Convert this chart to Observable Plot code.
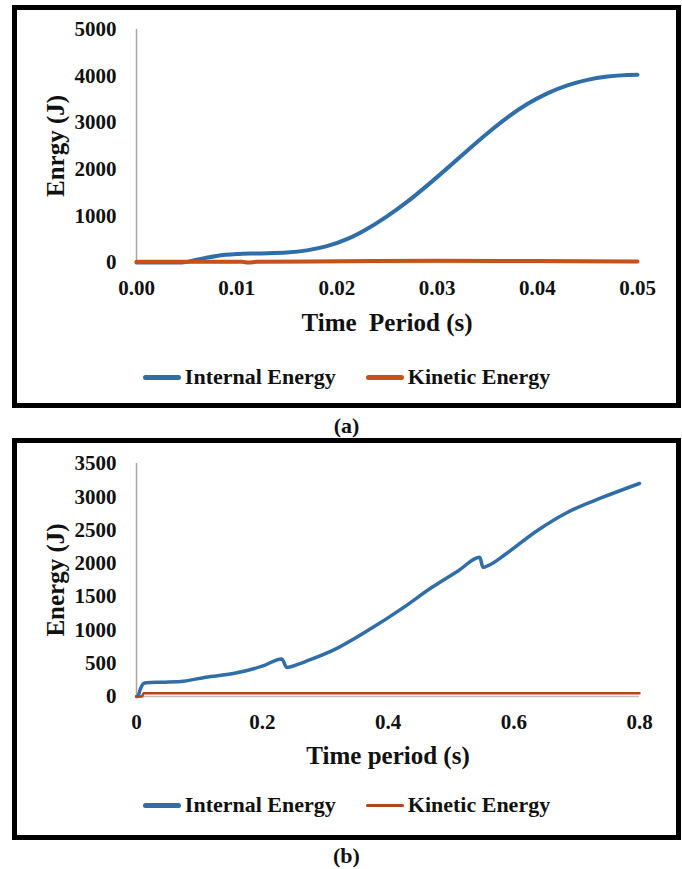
<!DOCTYPE html>
<html>
<head>
<meta charset="utf-8">
<script src="https://cdn.jsdelivr.net/npm/d3@7"></script>
<script src="https://cdn.jsdelivr.net/npm/@observablehq/plot@0.6"></script>
<style>
  html, body { margin: 0; padding: 0; background: #fff; }
  body { position: relative; width: 682px; height: 869px; overflow: hidden; font-family: "Liberation Serif", "Times New Roman", serif; font-weight: bold; color: #111; }
  .frame { position: absolute; box-sizing: border-box; border: 5px solid #000; }
  .chart { position: absolute; }
  .chart svg text { white-space: pre; }
  .legend { position: absolute; left: 12px; width: 669px; display: flex; justify-content: center; align-items: center; font-size: 22px; height: 30px; }
  .legend .item { display: flex; align-items: center; margin: 0 15px; }
  .legend .sw { display: inline-block; width: 38px; border-radius: 3px; margin-right: 4px; }
  .caption { position: absolute; left: 12px; width: 669px; text-align: center; font-size: 22px; }
</style>
</head>
<body>
<div class="frame" style="left:12px; top:5px; width:669px; height:403px;"></div>
<div class="frame" style="left:12px; top:438px; width:669px; height:402px;"></div>
<div id="chartA" class="chart" style="left:17px; top:10px;"></div>
<div id="chartB" class="chart" style="left:17px; top:443px;"></div>
<div class="legend" id="legendA" style="top:362px;"></div>
<div class="legend" id="legendB" style="top:790px;"></div>
<div class="caption" style="top:413px;">(a)</div>
<div class="caption" style="top:843px;">(b)</div>
<script>
// ---------- Panel (a) data ----------
const seriesNames = ["Internal Energy", "Kinetic Energy"];
const colorsA = ["#2f6ea6", "#c4521a"];
const colorsB = ["#2f6ea6", "#b5431c"];

const timeInternalA   = [0, 0.002, 0.0045, 0.006, 0.008, 0.010, 0.012, 0.015, 0.017, 0.019, 0.021, 0.023, 0.025, 0.027, 0.029, 0.031, 0.033, 0.035, 0.037, 0.039, 0.041, 0.043, 0.045, 0.047, 0.049, 0.050];
const internalEnergyA = [0, 0, 0, 60, 140, 180, 195, 215, 260, 350, 500, 720, 990, 1300, 1650, 2020, 2400, 2770, 3110, 3400, 3630, 3800, 3920, 3990, 4025, 4030];
const timeKineticA    = [0, 0.005, 0.0105, 0.0112, 0.012, 0.02, 0.03, 0.04, 0.05];
const kineticEnergyA  = [15, 15, 15, 0, 15, 25, 40, 30, 20];
const xTicksA = [0, 0.01, 0.02, 0.03, 0.04, 0.05];
const yTicksA = [0, 1000, 2000, 3000, 4000, 5000];

// ---------- Panel (b) data ----------
const timeInternalB   = [0, 0.002, 0.006, 0.011, 0.016, 0.04, 0.075, 0.11, 0.154, 0.2, 0.231, 0.239, 0.26, 0.27, 0.318, 0.373, 0.422, 0.47, 0.512, 0.546, 0.551, 0.56, 0.588, 0.637, 0.685, 0.741, 0.8];
const internalEnergyB = [0, 0, 110, 195, 205, 215, 230, 290, 345, 455, 565, 435, 495, 530, 720, 1020, 1320, 1640, 1890, 2090, 1940, 1970, 2145, 2490, 2765, 2990, 3200];
const timeKineticB    = [0, 0.009, 0.011, 0.2, 0.4, 0.6, 0.8];
const kineticEnergyB  = [0, 0, 50, 50, 50, 50, 50];
const xTicksB = [0, 0.2, 0.4, 0.6, 0.8];
const yTicksB = [0, 500, 1000, 1500, 2000, 2500, 3000, 3500];

const toRows = (ts, es) => ts.map((t, i) => ({t, e: es[i]}));

function makeChart(opts) {
  const {ie, ke, xDomain, yDomain, xTicks, yTicks, xFormat, xTitle, yTitle, colors, widths, curve, titleDy, marginTop, marginBottom, marginRight} = opts;
  return Plot.plot({
    width: 659,
    height: 330,
    marginLeft: 119,
    marginRight,
    marginTop,
    marginBottom,
    style: {background: "transparent", fontFamily: "'Liberation Serif', 'Times New Roman', serif", fontSize: "21px", fontWeight: "bold", color: "#111", overflow: "visible"},
    x: {domain: xDomain},
    y: {domain: yDomain},
    marks: [
      Plot.ruleX([xDomain[0]], {stroke: "#a6a6a6", strokeWidth: 1.5}),
      Plot.ruleY([yDomain[0]], {stroke: "#bfbfbf", strokeWidth: 1.5}),
      Plot.axisX({ticks: xTicks, tickFormat: xFormat, tickSize: 0, tickPadding: 18, label: null}),
      Plot.axisY({ticks: yTicks, tickFormat: d => String(d), tickSize: 0, tickPadding: 20, label: null}),
      Plot.line(ie, {x: "t", y: "e", stroke: colors[0], strokeWidth: widths[0], curve}),
      Plot.line(ke, {x: "t", y: "e", stroke: colors[1], strokeWidth: widths[1], curve: "monotone-x"}),
      Plot.text([xTitle], {frameAnchor: "bottom", lineAnchor: "middle", textAnchor: "middle", dy: titleDy, fontSize: 25, fontWeight: "bold", fill: "#111"}),
      Plot.text([yTitle], {frameAnchor: "left", lineAnchor: "middle", textAnchor: "middle", dx: -81, rotate: -90, fontSize: 25, fontWeight: "bold", fill: "#111"})
    ]
  });
}

document.getElementById("chartA").append(makeChart({
  ie: toRows(timeInternalA, internalEnergyA),
  ke: toRows(timeKineticA, kineticEnergyA),
  xDomain: [0, 0.05], yDomain: [0, 5000],
  xTicks: xTicksA, yTicks: yTicksA,
  xFormat: d => d.toFixed(2),
  xTitle: "Time\u00a0 Period (s)", yTitle: "Enrgy (J)",
  colors: colorsA, widths: [4, 4], curve: "monotone-x", titleDy: 60,
  marginTop: 19, marginBottom: 78, marginRight: 39
}));

document.getElementById("chartB").append(makeChart({
  ie: toRows(timeInternalB, internalEnergyB),
  ke: toRows(timeKineticB, kineticEnergyB),
  xDomain: [0, 0.8], yDomain: [0, 3500],
  xTicks: xTicksB, yTicks: yTicksB,
  xFormat: d => d === 0 ? "0" : d.toFixed(1),
  xTitle: "Time period (s)", yTitle: "Energy (J)",
  colors: colorsB, widths: [3.5, 2.5], curve: "monotone-x", titleDy: 59,
  marginTop: 20, marginBottom: 77, marginRight: 37
}));

function legend(id, colors, heights) {
  const el = document.getElementById(id);
  seriesNames.forEach((name, i) => {
    const item = document.createElement("div");
    item.className = "item";
    const sw = document.createElement("span");
    sw.className = "sw";
    sw.style.background = colors[i];
    sw.style.height = heights[i] + "px";
    item.append(sw, document.createTextNode(name));
    el.append(item);
  });
}
legend("legendA", colorsA, [5, 5]);
legend("legendB", colorsB, [5, 3]);
</script>
</body>
</html>
